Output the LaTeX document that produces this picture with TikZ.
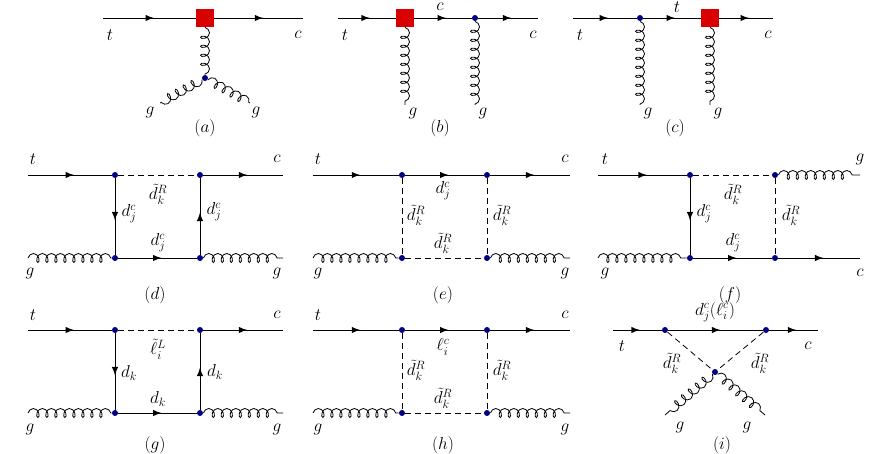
\documentclass[tikz,border=0pt]{standalone}
\usetikzlibrary{decorations.pathmorphing,decorations.markings}
\tikzset{
  fermion/.style={draw,postaction={decorate},decoration={markings,mark=at position 0.55 with {\arrow[scale=1.6]{latex}}}},
  scalar/.style={draw,dash pattern=on 6pt off 4pt},
  gluon/.style={draw,decorate,decoration={coil,amplitude=4.5pt,segment length=9pt,aspect=0.7}},
  vtx/.style={circle,fill=blue!50!black,inner sep=0pt,minimum size=6pt},
  blob/.style={fill=red!85!black,inner sep=0pt,minimum size=18pt}
}
\begin{document}
\begin{tikzpicture}[x=1pt,y=-1pt,line width=0.8pt,every node/.append style={font=\fontsize{17}{20}\selectfont}]
\useasboundingbox (0,0) rectangle (872,454);
% (a)
\coordinate (a1) at (103,18); \coordinate (a2) at (303,18);
\node[blob] (aop) at (205,18) {};
\node[vtx] (av) at (205,78) {};
\coordinate (ag1) at (160,103); \coordinate (ag2) at (250,103);
\draw[fermion] (a1) -- (aop.west); \draw[fermion] (aop.east) -- (a2);
\draw[gluon] (aop.south) -- (av);
\draw[gluon] (av) -- (ag1); \draw[gluon] (av) -- (ag2);
\node at (110,35) {$t$}; \node at (298,35) {$c$};
\node at (150,112) {$g$}; \node at (256,112) {$g$};
\node at (205,128) {$(a)$};
% (b)
\coordinate (b1) at (338,18); \coordinate (b2) at (538,18);
\node[blob] (bop) at (405,18) {};
\node[vtx] (bv) at (475,18) {};
\coordinate (bg1) at (405,105); \coordinate (bg2) at (475,105);
\draw[fermion] (b1) -- (bop.west); \draw[fermion] (bop.east) -- (bv);
\draw[fermion] (bv) -- (b2);
\draw[gluon] (bop.south) -- (bg1); \draw[gluon] (bv) -- (bg2);
\node at (345,35) {$t$}; \node at (440,7) {$c$}; \node at (533,35) {$c$};
\node at (413,113) {$g$}; \node at (483,113) {$g$};
\node at (440,128) {$(b)$};
% (c)
\coordinate (c1) at (573,18); \coordinate (c2) at (773,18);
\node[vtx] (cv) at (640,18) {};
\node[blob] (cop) at (710,18) {};
\coordinate (cg1) at (640,105); \coordinate (cg2) at (710,105);
\draw[fermion] (c1) -- (cv); \draw[fermion] (cv) -- (cop.west);
\draw[fermion] (cop.east) -- (c2);
\draw[gluon] (cv) -- (cg1); \draw[gluon] (cop.south) -- (cg2);
\node at (580,35) {$t$}; \node at (677,7) {$t$}; \node at (768,35) {$c$};
\node at (648,113) {$g$}; \node at (718,113) {$g$};
\node at (675,128) {$(c)$};
% (d)
\coordinate (d1) at (28,175); \coordinate (d2) at (283,175);
\coordinate (d3) at (28,258); \coordinate (d4) at (283,258);
\node[vtx] (dv1) at (115,175) {}; \node[vtx] (dv2) at (200,175) {};
\node[vtx] (dv3) at (115,258) {}; \node[vtx] (dv4) at (200,258) {};
\draw[fermion] (d1) -- (dv1); \draw[scalar] (dv1) -- (dv2); \draw[fermion] (dv2) -- (d2);
\draw[fermion] (dv1) -- (dv3); \draw[fermion] (dv4) -- (dv2);
\draw[gluon] (d3) -- (dv3); \draw[fermion] (dv3) -- (dv4); \draw[gluon] (dv4) -- (d4);
\node at (33,159) {$t$}; \node at (277,159) {$c$};
\node at (30,273) {$g$}; \node at (277,273) {$g$};
\node at (158,194) {$\tilde d_k^R$};
\node at (129,214) {$d_j^c$}; \node at (214,212) {$d_j^c$};
\node at (158,243) {$d_j^c$};
\node at (155,295) {$(d)$};
% (e)
\coordinate (e1) at (313,175); \coordinate (e2) at (570,175);
\coordinate (e3) at (313,258); \coordinate (e4) at (570,258);
\node[vtx] (ev1) at (402,175) {}; \node[vtx] (ev2) at (487,175) {};
\node[vtx] (ev3) at (402,258) {}; \node[vtx] (ev4) at (487,258) {};
\draw[fermion] (e1) -- (ev1); \draw[fermion] (ev1) -- (ev2); \draw[fermion] (ev2) -- (e2);
\draw[scalar] (ev1) -- (ev3); \draw[scalar] (ev2) -- (ev4);
\draw[gluon] (e3) -- (ev3); \draw[scalar] (ev3) -- (ev4); \draw[gluon] (ev4) -- (e4);
\node at (318,159) {$t$}; \node at (565,159) {$c$};
\node at (318,273) {$g$}; \node at (565,273) {$g$};
\node at (443,191) {$d_j^c$};
\node at (416,215) {$\tilde d_k^R$}; \node at (502,215) {$\tilde d_k^R$};
\node at (443,243) {$\tilde d_k^R$};
\node at (443,295) {$(e)$};
% (f)
\coordinate (f1) at (598,175); \coordinate (f2) at (860,175);
\coordinate (f3) at (598,258); \coordinate (f4) at (860,258);
\node[vtx] (fv1) at (690,175) {}; \node[vtx] (fv2) at (775,175) {};
\node[vtx] (fv3) at (690,258) {}; \node[vtx] (fv4) at (775,258) {};
\draw[fermion] (f1) -- (fv1); \draw[scalar] (fv1) -- (fv2); \draw[gluon] (fv2) -- (f2);
\draw[fermion] (fv1) -- (fv3); \draw[scalar] (fv2) -- (fv4);
\draw[gluon] (f3) -- (fv3); \draw[fermion] (fv3) -- (fv4); \draw[fermion] (fv4) -- (f4);
\node at (605,159) {$t$}; \node at (860,159) {$g$};
\node at (605,273) {$g$}; \node at (860,273) {$c$};
\node at (733,194) {$\tilde d_k^R$};
\node at (704,214) {$d_j^c$}; \node at (791,215) {$\tilde d_k^R$};
\node at (733,243) {$d_j^c$};
\node at (730,295) {$(f)$};
% (g)
\coordinate (g1) at (28,330); \coordinate (g2) at (283,330);
\coordinate (g3) at (28,413); \coordinate (g4) at (283,413);
\node[vtx] (gv1) at (115,330) {}; \node[vtx] (gv2) at (200,330) {};
\node[vtx] (gv3) at (115,413) {}; \node[vtx] (gv4) at (200,413) {};
\draw[fermion] (g1) -- (gv1); \draw[scalar] (gv1) -- (gv2); \draw[fermion] (gv2) -- (g2);
\draw[fermion] (gv1) -- (gv3); \draw[fermion] (gv4) -- (gv2);
\draw[gluon] (g3) -- (gv3); \draw[fermion] (gv3) -- (gv4); \draw[gluon] (gv4) -- (g4);
\node at (33,315) {$t$}; \node at (277,315) {$c$};
\node at (30,429) {$g$}; \node at (277,429) {$g$};
\node at (158,349) {$\tilde\ell_i^L$};
\node at (129,373) {$d_k$}; \node at (215,372) {$d_k$};
\node at (158,399) {$d_k$};
\node at (155,445) {$(g)$};
% (h)
\coordinate (h1) at (313,330); \coordinate (h2) at (570,330);
\coordinate (h3) at (313,413); \coordinate (h4) at (570,413);
\node[vtx] (hv1) at (402,330) {}; \node[vtx] (hv2) at (487,330) {};
\node[vtx] (hv3) at (402,413) {}; \node[vtx] (hv4) at (487,413) {};
\draw[fermion] (h1) -- (hv1); \draw[fermion] (hv1) -- (hv2); \draw[fermion] (hv2) -- (h2);
\draw[scalar] (hv1) -- (hv3); \draw[scalar] (hv2) -- (hv4);
\draw[gluon] (h3) -- (hv3); \draw[scalar] (hv3) -- (hv4); \draw[gluon] (hv4) -- (h4);
\node at (318,315) {$t$}; \node at (565,315) {$c$};
\node at (318,429) {$g$}; \node at (565,429) {$g$};
\node at (443,347) {$\ell_i^c$};
\node at (416,370) {$\tilde d_k^R$}; \node at (502,370) {$\tilde d_k^R$};
\node at (443,398) {$\tilde d_k^R$};
\node at (443,445) {$(h)$};
% (i)
\coordinate (i1) at (613,330); \coordinate (i2) at (818,330);
\node[vtx] (iv1) at (665,330) {}; \node[vtx] (iv2) at (766,330) {};
\node[vtx] (iv3) at (715,372) {};
\coordinate (ig1) at (665,415); \coordinate (ig2) at (765,415);
\draw[fermion] (i1) -- (iv1); \draw[fermion] (iv1) -- (iv2); \draw[fermion] (iv2) -- (i2);
\draw[scalar] (iv1) -- (iv3); \draw[scalar] (iv2) -- (iv3);
\draw[gluon] (iv3) -- (ig1); \draw[gluon] (iv3) -- (ig2);
\node at (715,312) {$d_j^c(\ell_i^c)$};
\node at (622,346) {$t$}; \node at (808,346) {$c$};
\node at (672,363) {$\tilde d_k^R$}; \node at (760,363) {$\tilde d_k^R$};
\node at (680,427) {$g$}; \node at (747,427) {$g$};
\node at (722,445) {$(i)$};
\end{tikzpicture}
\end{document}
